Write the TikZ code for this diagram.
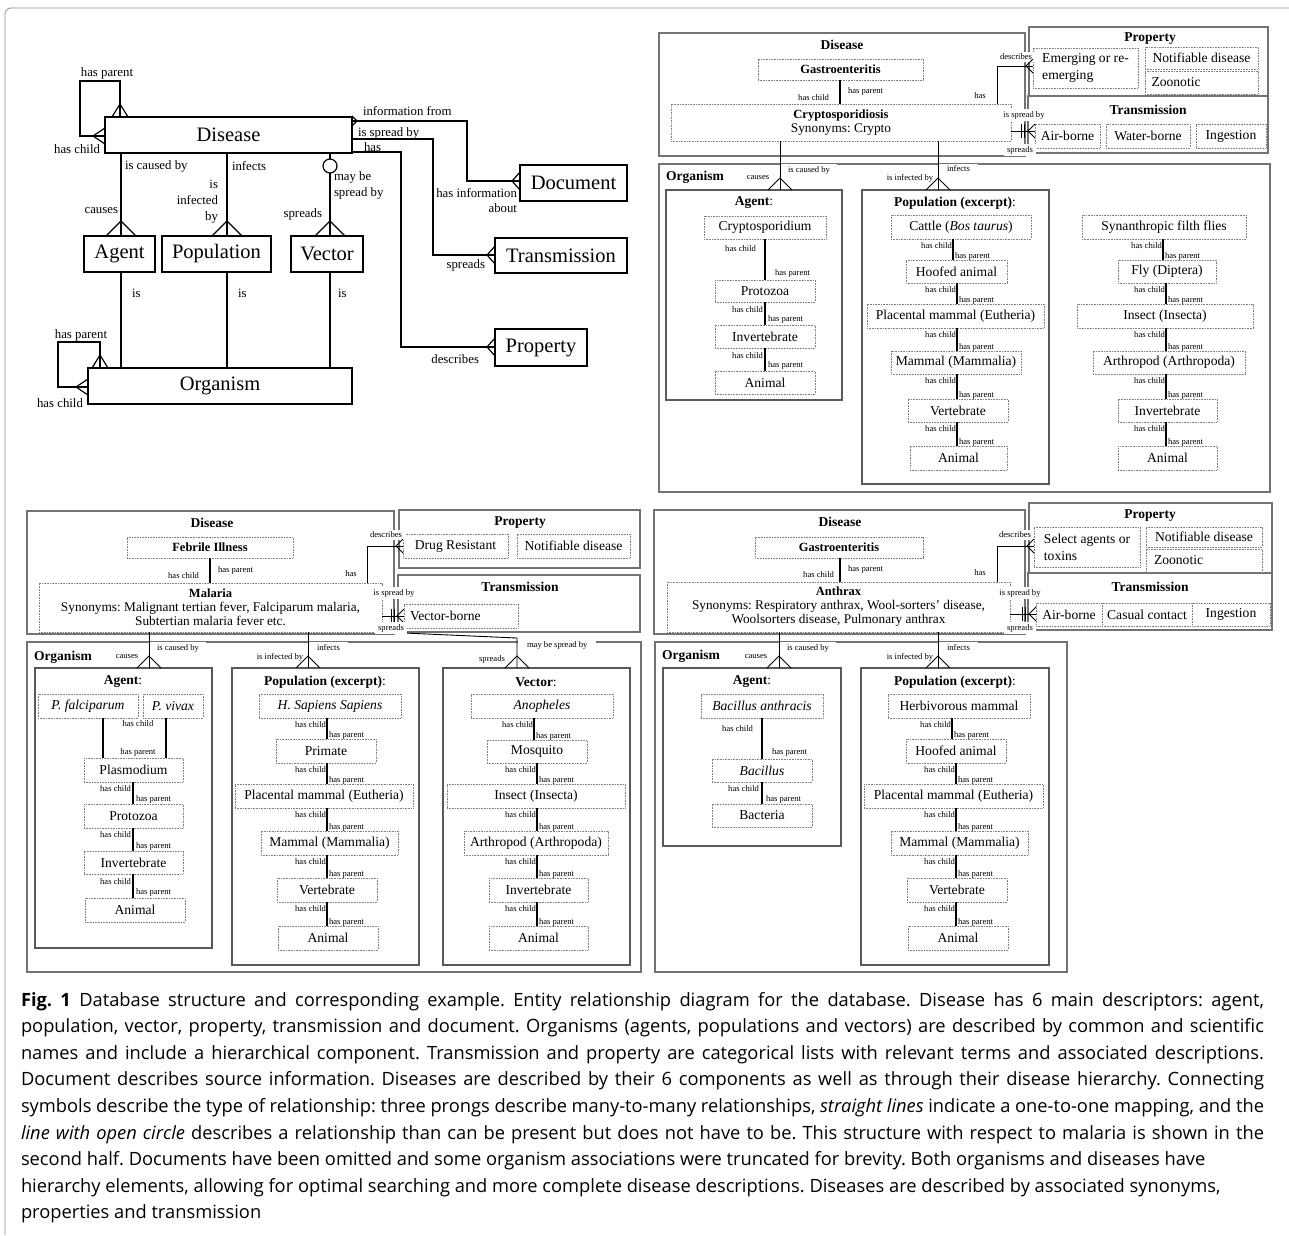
\documentclass[tikz,border=0pt]{standalone}
\usepackage{fontspec}
\setmainfont{Liberation Serif}
\newfontfamily\capfont{Open Sans}
\usetikzlibrary{calc}
\newcommand\mkbox[7][item]{\node[#1,minimum width={(#5)-(#3)},minimum height={(#6)-(#4)}] (#2) at ({((#3)+(#5))/2},{((#4)+(#6))/2}) {#7};}
\newcommand\hlk[6]{%
  \draw[hline] (#3,0 |- #1.south) -- (#3,0 |- #2.north);
  \node[tiny,anchor=east] at ($(#3,0 |- #1.south)+(-#6,#4)$) {has child};
  \node[tiny,anchor=west] at ($(#3,0 |- #2.north)+(#6+1,-#5)$) {has parent};}
\newcommand\cfd[5][conn]{\draw[#1] ({#2-#4},#3) -- (#2,{#3-#5}) -- ({#2+#4},#3);}
\newcommand\cfl[5][conn]{\draw[#1] (#2,{#3-#4}) -- ({#2-#5},#3) -- (#2,{#3+#4});}
\newcommand\cfr[5][conn]{\draw[#1] (#2,{#3-#4}) -- ({#2+#5},#3) -- (#2,{#3+#4});}
\newcommand\twobars[2]{\draw[conn] (#1,{#2-7}) -- (#1,{#2+7}) ({#1+3},{#2-7}) -- ({#1+3},{#2+7});}
\newcommand\jline[1]{\makebox[1243pt][s]{#1}}
\begin{document}
\frenchspacing
\begin{tikzpicture}[x=1pt,y=-1pt,
  every node/.style={inner sep=0pt,outer sep=0pt},
  erbox/.style={draw,line width=1.2pt,font=\fontsize{20.5}{24}\selectfont},
  erlbl/.style={font=\fontsize{12.8}{16}\selectfont},
  erline/.style={line width=1.2pt},
  panel/.style={draw=black!55,line width=1.2pt},
  abox/.style={draw=black!65,line width=1.2pt},
  ptitle/.style={font=\bfseries\fontsize{13.5}{15}\selectfont},
  item/.style={draw=black!50,dash pattern=on 0.8pt off 0.8pt,line width=0.8pt,font=\fontsize{13.6}{14}\selectfont},
  itemb/.style={item,font=\bfseries\fontsize{12.5}{14}\selectfont},
  tiny/.style={font=\fontsize{8.6}{10}\selectfont},
  wlbl/.style={tiny,fill=white,inner xsep=3pt,inner ysep=2pt},
  conn/.style={line width=0.9pt},
  hline/.style={line width=1.2pt},
  captxt/.style={anchor=base west,font=\capfont\fontsize{18.3}{20}\selectfont\frenchspacing},
]
\useasboundingbox (0,0) rectangle (1289,1235);
\draw[black!45,line width=0.8pt,rounded corners=6pt] (5,1235) -- (5,8) -- (1289,8);

% ================= ER diagram
\mkbox[erbox]{dis}{105}{117}{352}{153}{Disease}
\mkbox[erbox]{agt}{84}{236}{155}{272}{Agent}
\mkbox[erbox]{pop}{162}{236}{271}{272}{Population}
\mkbox[erbox]{vec}{291}{236}{363}{272}{Vector}
\mkbox[erbox]{org}{88}{368}{352}{404}{Organism}
\mkbox[erbox]{doc}{520}{165}{627}{201}{Document}
\mkbox[erbox]{trn}{495}{238}{627}{273}{Transmission}
\mkbox[erbox]{prp}{495}{329}{587}{366}{Property}
\draw[erline] (120,0 |- dis.north) -- (120,81) -- (80,81) -- (80,136) -- (dis.west |- 0,136);
\cfd[erline]{120}{117}{8}{13}
\cfl[erline]{105}{136}{8}{12}
\draw[erline] (100,0 |- org.north) -- (100,342) -- (58,342) -- (58,387) -- (org.west |- 0,387);
\cfd[erline]{100}{368}{8}{13}
\cfl[erline]{88}{387}{8}{12}
\draw[erline] (121,0 |- dis.south) -- (121,0 |- agt.north);
\cfd[erline]{121}{236}{15}{15}
\draw[erline] (227,0 |- dis.south) -- (227,0 |- pop.north);
\cfd[erline]{227}{236}{15}{15}
\draw[erline] (330,0 |- dis.south) -- (330,0 |- vec.north);
\cfd[erline]{330}{236}{15}{15}
\draw[erline,fill=white] (330,166) circle[radius=7];
\draw[erline] (121,0 |- agt.south) -- (121,0 |- org.north);
\draw[erline] (227,0 |- pop.south) -- (227,0 |- org.north);
\draw[erline] (330,0 |- vec.south) -- (330,0 |- org.north);
\draw[erline] (dis.east |- 0,121) -- (467,121) -- (467,181) -- (doc.west |- 0,181);
\cfr[erline]{352}{121}{5}{5}
\cfl[erline]{520}{181}{9}{8}
\draw[erline] (dis.east |- 0,139) -- (433,139) -- (433,255) -- (trn.west |- 0,255);
\cfl[erline]{495}{255}{9}{8}
\draw[erline] (dis.east |- 0,152) -- (401,152) -- (401,347) -- (prp.west |- 0,347);
\cfl[erline]{495}{347}{9}{8}
\node[erlbl] at (107,73) {has parent};
\node[erlbl,anchor=east] at (100,149) {has child};
\node[erlbl] at (81,335) {has parent};
\node[erlbl] at (60,403) {has child};
\node[erlbl,anchor=west] at (125,166) {is caused by};
\node[erlbl,anchor=east] at (118,211) {causes};
\node[erlbl,anchor=west] at (232,166) {infects};
\node[erlbl,anchor=east,align=right] at (218,202) {is\\infected\\by};
\node[erlbl,anchor=west,align=left] at (334,185) {may be\\spread by};
\node[erlbl,anchor=east] at (322,214) {spreads};
\node[erlbl,anchor=west] at (132,293) {is};
\node[erlbl,anchor=west] at (238,293) {is};
\node[erlbl,anchor=west] at (338,293) {is};
\node[erlbl,anchor=west] at (363,111) {information from};
\node[erlbl,anchor=west] at (358,133) {is spread by};
\node[erlbl,anchor=west] at (364,147) {has};
\node[erlbl,anchor=east] at (517,193) {has information};
\node[erlbl,anchor=east] at (517,208) {about};
\node[erlbl,anchor=east] at (485,265) {spreads};
\node[erlbl,anchor=east] at (479,359) {describes};

% ================= Top right: Cryptosporidiosis
\draw[panel] (659,33) rectangle (1025,156);
\draw[panel] (659,164) rectangle (1270,492);
\draw[panel] (1029,27) rectangle (1268,96);
\draw[panel] (1028,96) rectangle (1268,153);
\node[ptitle] at (842,45) {Disease};
\node[ptitle] at (1150,39) {Property};
\node[ptitle] at (1148,110) {Transmission};
\node[ptitle,anchor=west] at (666,177) {Organism};
\mkbox[itemb]{g1}{758}{59}{923}{80}{Gastroenteritis}
\mkbox[item,align=center,font=\fontsize{13.3}{14}\selectfont]{c1}{671}{104}{1011}{141}{{\bfseries\fontsize{12.5}{14}\selectfont Cryptosporidiosis}\\Synonyms: Crypto}
\draw[hline] (840,0 |- g1.south) -- (840,0 |- c1.north);
\node[tiny,anchor=east] at (829,98) {has child};
\node[tiny,anchor=west] at (848,91) {has parent};
\node[tiny] at (980,96) {has};
\mkbox[item,align=left,font=\fontsize{13.6}{17}\selectfont]{em1}{1033}{48}{1138}{88}{Emerging or re-\\emerging}
\mkbox{nd1}{1145}{47}{1258}{69}{Notifiable disease}
\mkbox{zo1}{1145}{71}{1258}{94}{\makebox[100pt][l]{Zoonotic}}
\mkbox{ab1}{1035}{124}{1100}{148}{Air-borne}
\mkbox{wb1}{1106}{124}{1190}{148}{Water-borne}
\mkbox{ig1}{1196}{124}{1266}{148}{Ingestion}
\node[wlbl] at (1016,57) {describes};
\node[wlbl] at (1024,115) {is spread by};
\node[wlbl] at (1020,150) {spreads};
\draw[conn] (997,0 |- c1.north) -- (997,66) -- (em1.west |- 0,66);
\cfl{1033}{66}{7}{7}
\draw[conn] (c1.east |- 0,131) -- (ab1.west |- 0,131);
\twobars{1021}{131}
\cfl{1035}{131}{7}{7}
\mkbox[abox]{a1}{666}{190}{842}{400}{}
\mkbox[abox]{p1}{862}{190}{1049}{484}{}
\node[ptitle] at (754,203) {Agent\textnormal{:}};
\node[ptitle] at (955,203) {Population (excerpt)\textnormal{:}};
\node[wlbl,anchor=west,inner xsep=7pt] at (781,170) {is caused by};
\node[tiny] at (758,178) {causes};
\node[wlbl,anchor=west,inner xsep=8pt] at (939,169) {infects};
\node[tiny] at (910,178) {is infected by};
\draw[conn] (780,0 |- c1.south) -- (780,0 |- a1.north);
\cfd{780}{190}{12}{12}
\draw[conn] (938,0 |- c1.south) -- (938,0 |- p1.north);
\cfd{938}{190}{12}{12}
\mkbox{a1i1}{704}{216}{826}{239}{Cryptosporidium}
\mkbox{a1i2}{715}{280}{815}{302}{Protozoa}
\mkbox{a1i3}{715}{325}{815}{348}{Invertebrate}
\mkbox{a1i4}{715}{371}{815}{394}{Animal}
\hlk{a1i1}{a1i2}{765}{10}{7}{9}
\hlk{a1i2}{a1i3}{765}{8}{6}{2}
\hlk{a1i3}{a1i4}{765}{8}{6}{2}
\mkbox{p1i1}{891}{215}{1031}{239}{Cattle (\textit{Bos taurus})}
\mkbox{p1i2}{906}{260}{1007}{283}{Hoofed animal}
\mkbox{p1i3}{867}{304}{1044}{328}{Placental mammal (Eutheria)}
\mkbox{p1i4}{891}{351}{1021}{374}{Mammal (Mammalia)}
\mkbox{p1i5}{908}{399}{1008}{422}{Vertebrate}
\mkbox{p1i6}{910}{446}{1007}{470}{Animal}
\hlk{p1i1}{p1i2}{953}{7}{4}{1}
\hlk{p1i2}{p1i3}{957}{7}{4}{1}
\hlk{p1i3}{p1i4}{957}{7}{4}{1}
\hlk{p1i4}{p1i5}{957}{7}{4}{1}
\hlk{p1i5}{p1i6}{957}{7}{4}{1}
\mkbox{v1i1}{1082}{215}{1246}{239}{Synanthropic filth flies}
\mkbox{v1i2}{1118}{260}{1216}{283}{Fly (Diptera)}
\mkbox{v1i3}{1077}{304}{1253}{328}{Insect (Insecta)}
\mkbox{v1i4}{1093}{351}{1245}{374}{Arthropod (Arthropoda)}
\mkbox{v1i5}{1118}{399}{1217}{422}{Invertebrate}
\mkbox{v1i6}{1118}{446}{1217}{470}{Animal}
\hlk{v1i1}{v1i2}{1163}{7}{4}{1}
\hlk{v1i2}{v1i3}{1166}{7}{4}{1}
\hlk{v1i3}{v1i4}{1166}{7}{4}{1}
\hlk{v1i4}{v1i5}{1166}{7}{4}{1}
\hlk{v1i5}{v1i6}{1166}{7}{4}{1}

% ================= Bottom left: Malaria
\draw[panel] (27,511) rectangle (394,634);
\draw[panel] (399,510) rectangle (640,568);
\draw[panel] (398,575) rectangle (640,632);
\draw[panel] (27,642) rectangle (641,972);
\node[ptitle] at (212,523) {Disease};
\node[ptitle] at (520,523) {Property};
\node[ptitle] at (520,587) {Transmission};
\node[ptitle,anchor=west] at (34,657) {Organism};
\mkbox[itemb]{g2}{127}{537}{293}{558}{Febrile Illness}
\mkbox[item,align=center,font=\fontsize{13.3}{14}\selectfont]{m2}{39}{583}{382}{632}{{\bfseries\fontsize{12.5}{14}\selectfont Malaria}\\Synonyms: Malignant tertian fever, Falciparum malaria,\\Subtertian malaria fever etc.}
\draw[hline] (210,0 |- g2.south) -- (210,0 |- m2.north);
\node[tiny,anchor=east] at (199,576) {has child};
\node[tiny,anchor=west] at (218,570) {has parent};
\node[tiny] at (351,574) {has};
\mkbox{dr2}{403}{534}{508}{558}{Drug Resistant}
\mkbox{nd2}{517}{534}{630}{558}{Notifiable disease}
\mkbox{vb2}{404}{604}{518}{628}{\makebox[102pt][l]{Vector-borne}}
\node[wlbl] at (386,535) {describes};
\node[wlbl] at (394,593) {is spread by};
\draw[conn] (367,0 |- m2.north) -- (367,546) -- (dr2.west |- 0,546);
\cfl{403}{546}{7}{7}
\draw[conn] (m2.east |- 0,616) -- (vb2.west |- 0,616);
\twobars{391}{616}
\cfl{404}{616}{7}{7}
\mkbox[abox]{a2}{35}{668}{212}{948}{}
\mkbox[abox]{p2}{232}{668}{419}{965}{}
\mkbox[abox]{v2}{443}{668}{630}{965}{}
\node[ptitle] at (123,682) {Agent\textnormal{:}};
\node[ptitle] at (325,682) {Population (excerpt)\textnormal{:}};
\node[ptitle] at (536,682) {Vector\textnormal{:}};
\node[wlbl,anchor=west,inner xsep=7pt] at (150,648) {is caused by};
\node[tiny] at (127,657) {causes};
\node[wlbl,anchor=west,inner xsep=8pt] at (309,647) {infects};
\node[tiny] at (280,657) {is infected by};
\draw[conn] (m2.south east) -- (517,638) -- (517,0 |- v2.north);
\node[wlbl,anchor=west,inner xsep=9pt] at (518,645) {may be spread by};
\node[tiny] at (492,659) {spreads};
\node[wlbl] at (391,628) {spreads};
\draw[conn] (149,0 |- m2.south) -- (149,0 |- a2.north);
\cfd{149}{668}{12}{12}
\draw[conn] (308,0 |- m2.south) -- (308,0 |- p2.north);
\cfd{308}{668}{12}{12}
\cfd{517}{668}{12}{12}
\mkbox{a2i1}{38}{694}{138}{718}{\textit{P. falciparum}}
\mkbox{a2i2}{143}{694}{203}{718}{\textit{P. vivax}}
\mkbox{a2i3}{84}{758}{183}{782}{Plasmodium}
\mkbox{a2i4}{84}{804}{183}{828}{Protozoa}
\mkbox{a2i5}{84}{851}{183}{874}{Invertebrate}
\mkbox{a2i6}{85}{898}{185}{922}{Animal}
\draw[hline] (103,0 |- a2i1.south) -- (103,0 |- a2i3.north);
\draw[hline] (166,0 |- a2i2.south) -- (166,0 |- a2i3.north);
\node[tiny] at (138,724) {has child};
\node[tiny] at (138,752) {has parent};
\hlk{a2i3}{a2i4}{133}{7}{5}{2}
\hlk{a2i4}{a2i5}{133}{7}{5}{2}
\hlk{a2i5}{a2i6}{133}{8}{6}{2}
\mkbox{p2i1}{259}{694}{401}{718}{\textit{H. Sapiens Sapiens}}
\mkbox{p2i2}{276}{739}{376}{763}{Primate}
\mkbox{p2i3}{235}{784}{413}{808}{Placental mammal (Eutheria)}
\mkbox{p2i4}{261}{831}{398}{855}{Mammal (Mammalia)}
\mkbox{p2i5}{277}{878}{377}{902}{Vertebrate}
\mkbox{p2i6}{278}{926}{378}{950}{Animal}
\hlk{p2i1}{p2i2}{327}{7}{4}{1}
\hlk{p2i2}{p2i3}{327}{7}{4}{1}
\hlk{p2i3}{p2i4}{327}{7}{4}{1}
\hlk{p2i4}{p2i5}{327}{7}{4}{1}
\hlk{p2i5}{p2i6}{327}{7}{4}{1}
\mkbox{v2i1}{471}{694}{613}{718}{\textit{Anopheles}}
\mkbox{v2i2}{487}{740}{587}{763}{Mosquito}
\mkbox{v2i3}{447}{784}{625}{808}{Insect (Insecta)}
\mkbox{v2i4}{464}{831}{608}{855}{Arthropod (Arthropoda)}
\mkbox{v2i5}{489}{878}{588}{902}{Invertebrate}
\mkbox{v2i6}{489}{926}{588}{950}{Animal}
\hlk{v2i1}{v2i2}{534}{7}{4}{1}
\hlk{v2i2}{v2i3}{537}{7}{4}{1}
\hlk{v2i3}{v2i4}{537}{7}{4}{1}
\hlk{v2i4}{v2i5}{537}{7}{4}{1}
\hlk{v2i5}{v2i6}{537}{7}{4}{1}

% ================= Bottom right: Anthrax
\draw[panel] (654,510) rectangle (1025,634);
\draw[panel] (1029,503) rectangle (1272,573);
\draw[panel] (1028,573) rectangle (1272,630);
\draw[panel] (655,642) rectangle (1067,972);
\node[ptitle] at (840,522) {Disease};
\node[ptitle] at (1150,516) {Property};
\node[ptitle] at (1150,587) {Transmission};
\node[ptitle,anchor=west] at (662,656) {Organism};
\mkbox[itemb]{g3}{755}{537}{923}{558}{Gastroenteritis}
\mkbox[item,align=center,font=\fontsize{13.3}{14}\selectfont]{x3}{667}{582}{1010}{632}{{\bfseries\fontsize{12.5}{14}\selectfont Anthrax}\\Synonyms: Respiratory anthrax, Wool-sorters’ disease,\\Woolsorters disease, Pulmonary anthrax}
\draw[hline] (840,0 |- g3.south) -- (840,0 |- x3.north);
\node[tiny,anchor=east] at (834,575) {has child};
\node[tiny,anchor=west] at (848,569) {has parent};
\node[tiny] at (980,573) {has};
\mkbox[item,align=left,font=\fontsize{13.6}{17}\selectfont]{sa3}{1034}{527}{1140}{567}{Select agents or\\toxins}
\mkbox{nd3}{1146}{527}{1262}{547}{Notifiable disease}
\mkbox{zo3}{1146}{549}{1262}{572}{\makebox[100pt][l]{Zoonotic}}
\mkbox{ab3}{1036}{603}{1102}{626}{Air-borne}
\mkbox{cc3}{1102}{603}{1192}{626}{Casual contact}
\mkbox{ig3}{1192}{603}{1270}{626}{Ingestion}
\node[wlbl] at (1015,535) {describes};
\node[wlbl] at (1020,593) {is spread by};
\node[wlbl] at (1020,628) {spreads};
\draw[conn] (997,0 |- x3.north) -- (997,546) -- (sa3.west |- 0,546);
\cfl{1034}{546}{7}{7}
\draw[conn] (x3.east |- 0,614) -- (ab3.west |- 0,614);
\twobars{1022}{614}
\cfl{1036}{614}{7}{7}
\mkbox[abox]{a3}{663}{668}{841}{846}{}
\mkbox[abox]{p3}{861}{668}{1049}{965}{}
\node[ptitle] at (752,682) {Agent\textnormal{:}};
\node[ptitle] at (955,682) {Population (excerpt)\textnormal{:}};
\node[wlbl,anchor=west,inner xsep=7pt] at (780,648) {is caused by};
\node[tiny] at (756,657) {causes};
\node[wlbl,anchor=west,inner xsep=8pt] at (939,647) {infects};
\node[tiny] at (910,657) {is infected by};
\draw[conn] (779,0 |- x3.south) -- (779,0 |- a3.north);
\cfd{779}{668}{12}{12}
\draw[conn] (938,0 |- x3.south) -- (938,0 |- p3.north);
\cfd{938}{668}{12}{12}
\mkbox{a3i1}{701}{694}{823}{718}{\textit{Bacillus anthracis}}
\mkbox{a3i2}{712}{759}{812}{782}{\textit{Bacillus}}
\mkbox{a3i3}{712}{804}{812}{827}{Bacteria}
\hlk{a3i1}{a3i2}{762}{11}{7}{9}
\hlk{a3i2}{a3i3}{762}{7}{5}{3}
\mkbox{p3i1}{888}{694}{1030}{718}{Herbivorous mammal}
\mkbox{p3i2}{906}{739}{1006}{763}{Hoofed animal}
\mkbox{p3i3}{864}{784}{1043}{808}{Placental mammal (Eutheria)}
\mkbox{p3i4}{891}{831}{1028}{855}{Mammal (Mammalia)}
\mkbox{p3i5}{907}{878}{1007}{902}{Vertebrate}
\mkbox{p3i6}{908}{926}{1008}{950}{Animal}
\hlk{p3i1}{p3i2}{952}{7}{4}{1}
\hlk{p3i2}{p3i3}{956}{7}{4}{1}
\hlk{p3i3}{p3i4}{956}{7}{4}{1}
\hlk{p3i4}{p3i5}{956}{7}{4}{1}
\hlk{p3i5}{p3i6}{956}{7}{4}{1}

% ================= Caption
\node[captxt] at (21,1006) {\jline{\textbf{Fig.~1} Database structure and corresponding example. Entity relationship diagram for the database. Disease has 6 main descriptors: agent,}};
\node[captxt] at (21,1032.6) {\jline{population, vector, property, transmission and document. Organisms (agents, populations and vectors) are described by common and scientific}};
\node[captxt] at (21,1059.2) {\jline{names and include a hierarchical component. Transmission and property are categorical lists with relevant terms and associated descriptions.}};
\node[captxt] at (21,1085.8) {\jline{Document describes source information. Diseases are described by their 6 components as well as through their disease hierarchy. Connecting}};
\node[captxt] at (21,1112.4) {\jline{symbols describe the type of relationship: three prongs describe many-to-many relationships, \textit{straight lines} indicate a one-to-one mapping, and the}};
\node[captxt] at (21,1139) {\jline{\textit{line with open circle} describes a relationship than can be present but does not have to be. This structure with respect to malaria is shown in the}};
\node[captxt] at (21,1165.6) {second half. Documents have been omitted and some organism associations were truncated for brevity. Both organisms and diseases have};
\node[captxt] at (21,1192.2) {hierarchy elements, allowing for optimal searching and more complete disease descriptions. Diseases are described by associated synonyms,};
\node[captxt] at (21,1218.8) {properties and transmission};
\end{tikzpicture}
\end{document}
